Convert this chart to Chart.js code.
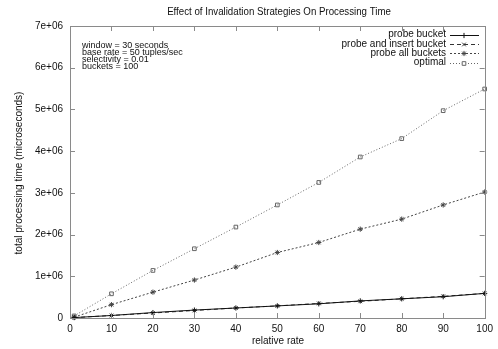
<!DOCTYPE html>
<html>
<head>
<meta charset="utf-8">
<script src="https://cdn.jsdelivr.net/npm/chart.js@4/dist/chart.umd.min.js"></script>
<style>
  html, body { margin: 0; padding: 0; background: #fff; }
  #wrap { width: 498px; height: 349px; }
</style>
</head>
<body>
<div id="wrap"><canvas id="myChart" width="498" height="349"></canvas></div>
<script>
const rates = [1, 10, 20, 30, 40, 50, 60, 70, 80, 90, 100];
const probeBucket = [0.01e6, 0.06e6, 0.13e6, 0.19e6, 0.24e6, 0.29e6, 0.34e6, 0.41e6, 0.46e6, 0.51e6, 0.59e6];
const probeInsert = [0.01e6, 0.06e6, 0.12e6, 0.18e6, 0.24e6, 0.29e6, 0.35e6, 0.40e6, 0.46e6, 0.52e6, 0.59e6];
const probeAll = [0.02e6, 0.32e6, 0.62e6, 0.91e6, 1.22e6, 1.57e6, 1.81e6, 2.13e6, 2.37e6, 2.71e6, 3.02e6];
const optimal = [0.05e6, 0.58e6, 1.14e6, 1.66e6, 2.18e6, 2.71e6, 3.25e6, 3.86e6, 4.30e6, 4.97e6, 5.49e6];
const seriesNames = ['probe bucket', 'probe and insert bucket', 'probe all buckets', 'optimal'];
const notes = ['window = 30 seconds', 'base rate = 50 tuples/sec', 'selectivity = 0.01', 'buckets = 100'];
const titleText = 'Effect of Invalidation Strategies On Processing Time';
const xTitle = 'relative rate';
const yTitle = 'total processing time (microseconds)';

const FONT = '"Liberation Sans", Arial, sans-serif';

function pts(vals) {
    return vals.map((v, i) => ({x: rates[i], y: v}));
}

function fmtTick(v) {
    if (v == 0) return '0';
    let e = Math.floor(Math.log10(v) + 1e-9);
    let m = Math.round(v / Math.pow(10, e));
    return m + 'e+' + String(e).padStart(2, '0');
}

const styles = [
    {color: '#111', dash: [], point: 'cross'},
    {color: '#333', dash: [4, 3], point: 'crossRot'},
    {color: '#444', dash: [2, 2], point: 'star'},
    {color: '#666', dash: [1, 2], point: 'rect'}
];

// slightly squeezed text for the title
function narrowText(c, text, x, y, sx) {
    c.save();
    c.translate(x, y);
    c.scale(sx, 1);
    c.fillText(text, 0, 0);
    c.restore();
}

// gnuplot-like frame, inward ticks, text and key
const gnuplotDecor = {
    id: 'gnuplotDecor',
    afterDraw(chart) {
        const c = chart.ctx;
        const a = chart.chartArea;
        const xs = chart.scales.x;
        const ys = chart.scales.y;
        c.save();
        c.strokeStyle = '#8a8a8a';
        c.lineWidth = 1;
        c.setLineDash([]);
        c.strokeRect(Math.round(a.left) + 0.5, Math.round(a.top) + 0.5,
            Math.round(a.right - a.left), Math.round(a.bottom - a.top));
        c.beginPath();
        xs.ticks.forEach(t => {
            let px = Math.round(xs.getPixelForValue(t.value)) + 0.5;
            c.moveTo(px, a.bottom); c.lineTo(px, a.bottom - 5);
            c.moveTo(px, a.top); c.lineTo(px, a.top + 5);
        });
        ys.ticks.forEach(t => {
            let py = Math.round(ys.getPixelForValue(t.value)) + 0.5;
            c.moveTo(a.left, py); c.lineTo(a.left + 5, py);
            c.moveTo(a.right, py); c.lineTo(a.right - 5, py);
        });
        c.stroke();

        c.fillStyle = '#111';
        c.textBaseline = 'middle';
        c.textAlign = 'center';
        c.font = '10px ' + FONT;
        narrowText(c, titleText, 279, 12, 0.97);
        c.fillText(xTitle, 278, 341);
        c.save();
        c.translate(19, 173);
        c.rotate(-Math.PI / 2);
        c.fillText(yTitle, 0, 0);
        c.restore();

        c.textAlign = 'left';
        c.font = '9px ' + FONT;
        notes.forEach((n, i) => c.fillText(n, 82, 46 + i * 7));

        c.font = '10px ' + FONT;
        c.textAlign = 'right';
        seriesNames.forEach((n, i) => {
            let y = 34.5 + i * 9.4;
            c.fillStyle = '#111';
            c.fillText(n, 446, y);
            let st = styles[i];
            c.strokeStyle = st.color;
            c.setLineDash(st.dash);
            c.beginPath();
            c.moveTo(450, Math.round(y) + 0.5);
            c.lineTo(479, Math.round(y) + 0.5);
            c.stroke();
            c.setLineDash([]);
            c.fillStyle = '#fff';
            Chart.helpers.drawPoint(c, {pointStyle: st.point, radius: 2.6, borderWidth: 1}, 464, Math.round(y) + 0.5);
        });
        c.restore();
    }
};

const ctx = document.getElementById('myChart').getContext('2d');
const myChart = new Chart(ctx, {
    type: 'line',
    data: {
        datasets: [probeBucket, probeInsert, probeAll, optimal].map((vals, i) => ({
            label: seriesNames[i],
            data: pts(vals),
            borderColor: styles[i].color,
            borderWidth: 1,
            borderDash: styles[i].dash,
            pointStyle: styles[i].point,
            pointRadius: 2.6,
            pointBorderWidth: 1,
            pointBorderColor: styles[i].color,
            pointBackgroundColor: 'rgba(0,0,0,0)',
            fill: false,
            tension: 0
        }))
    },
    options: {
        responsive: false,
        animation: false,
        clip: false,
        layout: {padding: {top: 26, right: 7, left: 0, bottom: 0}},
        plugins: {
            legend: {display: false},
            title: {display: false},
            tooltip: {enabled: false}
        },
        scales: {
            x: {
                type: 'linear',
                min: 0, max: 100,
                ticks: {stepSize: 10, color: '#111', font: {family: FONT, size: 10}, padding: 5, maxRotation: 0, autoSkip: false},
                grid: {display: false, drawTicks: false, tickLength: 0},
                border: {display: false},
                afterFit(scale) { scale.height = 31; }
            },
            y: {
                min: 0, max: 7e6,
                ticks: {stepSize: 1e6, color: '#111', font: {family: FONT, size: 10}, padding: 7, callback: v => fmtTick(v)},
                grid: {display: false, drawTicks: false, tickLength: 0},
                border: {display: false},
                afterFit(scale) { scale.width = 70; }
            }
        }
    },
    plugins: [gnuplotDecor]
});
</script>
</body>
</html>
